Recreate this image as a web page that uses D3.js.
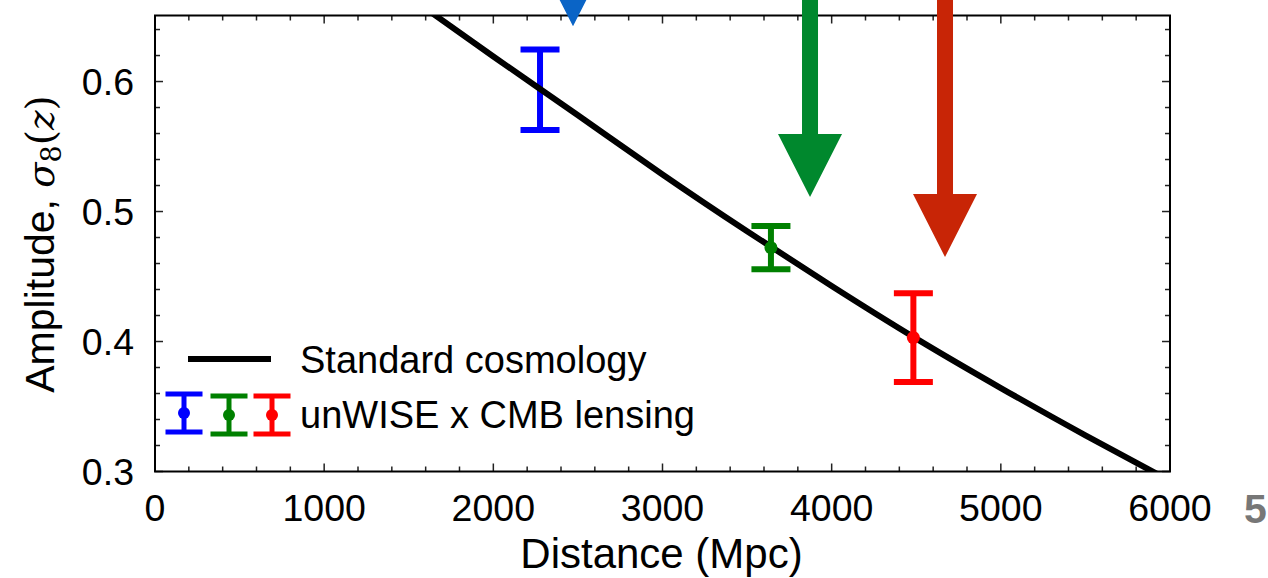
<!DOCTYPE html>
<html>
<head>
<meta charset="utf-8">
<script src="https://cdn.jsdelivr.net/npm/d3@7"></script>
<style>
  html, body { margin: 0; padding: 0; background: #fff; }
  svg { display: block; }
  text { font-family: "Liberation Sans", Arial, Helvetica, sans-serif; fill: #000; }
</style>
</head>
<body>
<svg id="chart" width="1268" height="578"></svg>
<script>
// Standard-cosmology prediction of sigma8 versus comoving distance
const modelDistance = [1500, 2000, 2500, 3000, 3500, 4000, 4500, 5000, 5500, 6000];
const modelSigma8   = [0.6654, 0.6193, 0.574, 0.5285, 0.4848, 0.4427, 0.4022, 0.3642, 0.3278, 0.2928];

// unWISE x CMB lensing measurements (blue, green, red samples)
const sampleNames    = ["blue", "green", "red"];
const sampleDistance = [2276, 3641, 4483];
const sampleSigma8   = [0.5937, 0.4722, 0.4030];
const sampleError    = [0.031, 0.0167, 0.0342];
const sampleColors   = ["#0000ff", "#008000", "#ff0000"];

// Downward arrows marking each sample's distance
const arrowDistance = [2471, 3872, 4670];
const arrowTip      = [0.6425, 0.5112, 0.4650];
const arrowColors   = ["#0a64c6", "#00882d", "#c82506"];

// Axis ticks
const xMajorTicks = [0, 1000, 2000, 3000, 4000, 5000, 6000];
const yMajorTicks = [0.3, 0.4, 0.5, 0.6];

const svg = d3.select("#chart");
const plotLeft = 155, plotRight = 1170, plotTop = 15.5, plotBottom = 471.5;

const x = d3.scaleLinear().domain([0, 6000]).range([plotLeft, plotRight]);
const y = d3.scaleLinear().domain([0.3, 0.6508]).range([plotBottom, plotTop]);

svg.append("defs").append("clipPath").attr("id", "plotClip")
  .append("rect").attr("x", plotLeft).attr("y", plotTop)
  .attr("width", plotRight - plotLeft).attr("height", plotBottom - plotTop);

// Ticks: inward on all four sides
const xMinor = d3.range(0, 6001, 200).filter(v => v % 1000 !== 0);
const yMinor = d3.range(0.30, 0.6501, 0.02).map(v => +v.toFixed(2))
  .filter(v => Math.abs(v * 10 - Math.round(v * 10)) > 1e-6);

const tickG = svg.append("g").attr("stroke", "#222").attr("stroke-width", 1.5);
function xTick(v, len) {
  tickG.append("line").attr("x1", x(v)).attr("x2", x(v)).attr("y1", plotBottom).attr("y2", plotBottom - len);
  tickG.append("line").attr("x1", x(v)).attr("x2", x(v)).attr("y1", plotTop).attr("y2", plotTop + len);
}
function yTick(v, len) {
  tickG.append("line").attr("y1", y(v)).attr("y2", y(v)).attr("x1", plotLeft).attr("x2", plotLeft + len);
  tickG.append("line").attr("y1", y(v)).attr("y2", y(v)).attr("x1", plotRight).attr("x2", plotRight - len);
}
xMajorTicks.forEach(v => xTick(v, 8));
xMinor.forEach(v => xTick(v, 5));
yMajorTicks.forEach(v => yTick(v, 8));
yMinor.forEach(v => yTick(v, 5));

// Tick labels
svg.append("g").selectAll("text").data(xMajorTicks).join("text")
  .attr("x", d => x(d)).attr("y", 521)
  .attr("text-anchor", "middle").attr("font-size", 37.5)
  .text(d => d);
svg.append("g").selectAll("text").data(yMajorTicks).join("text")
  .attr("x", 134).attr("y", d => y(d) + 13)
  .attr("text-anchor", "end").attr("font-size", 37.5)
  .text(d => d.toFixed(1));

// Axis titles
svg.append("text").attr("x", (plotLeft + plotRight) / 2 - 1).attr("y", 568)
  .attr("text-anchor", "middle").attr("font-size", 42)
  .text("Distance (Mpc)");

const yTitle = svg.append("text")
  .attr("transform", "translate(54,244) rotate(-90)")
  .attr("text-anchor", "middle").attr("font-size", 41);
yTitle.append("tspan").text("Amplitude, ");
yTitle.append("tspan").attr("font-family", "'DejaVu Serif', serif").attr("font-style", "italic").attr("font-size", 37).text("σ");
yTitle.append("tspan").attr("font-family", "'DejaVu Serif', serif").attr("font-size", 27).attr("dy", 7).text("8");
yTitle.append("tspan").attr("font-family", "'DejaVu Serif', serif").attr("font-size", 39).attr("dy", -7).text("(");
yTitle.append("tspan").attr("font-family", "'DejaVu Serif', serif").attr("font-style", "italic").attr("font-size", 37).text("z");
yTitle.append("tspan").attr("font-family", "'DejaVu Serif', serif").attr("font-size", 39).text(")");

// Measurements with error bars; the blue bar sits beneath the curve, the others above
const plot = svg.append("g").attr("clip-path", "url(#plotClip)");
const capHalf = 19.5;
const markerRadius = [0, 6.5, 6.5];
function drawSample(i) {
  const g = plot.append("g").attr("stroke", sampleColors[i]).attr("fill", sampleColors[i]);
  const cx = x(sampleDistance[i]);
  const yHi = y(sampleSigma8[i] + sampleError[i]);
  const yLo = y(sampleSigma8[i] - sampleError[i]);
  g.append("line").attr("x1", cx).attr("x2", cx).attr("y1", yHi).attr("y2", yLo).attr("stroke-width", 6);
  g.append("line").attr("x1", cx - capHalf).attr("x2", cx + capHalf).attr("y1", yHi).attr("y2", yHi).attr("stroke-width", 6);
  g.append("line").attr("x1", cx - capHalf).attr("x2", cx + capHalf).attr("y1", yLo).attr("y2", yLo).attr("stroke-width", 6);
  if (markerRadius[i] > 0) {
    g.append("circle").attr("cx", cx).attr("cy", y(sampleSigma8[i])).attr("r", markerRadius[i]).attr("stroke", "none");
  }
}
drawSample(0);

// Model curve
const line = d3.line().x((d, i) => x(modelDistance[i])).y(d => y(d)).curve(d3.curveNatural);
plot.append("path").attr("d", line(modelSigma8))
  .attr("fill", "none").attr("stroke", "#000").attr("stroke-width", 6);

drawSample(1);
drawSample(2);

// Frame
svg.append("rect").attr("x", plotLeft).attr("y", plotTop)
  .attr("width", plotRight - plotLeft).attr("height", plotBottom - plotTop)
  .attr("fill", "none").attr("stroke", "#000").attr("stroke-width", 2);

// Legend
const lg = svg.append("g");
lg.append("line").attr("x1", 188).attr("x2", 271).attr("y1", 359).attr("y2", 359)
  .attr("stroke", "#000").attr("stroke-width", 6);
lg.append("text").attr("x", 300).attr("y", 373).attr("font-size", 38).text("Standard cosmology");
const legendX = [184, 229, 272];
const legendY = [413, 415, 415];
sampleColors.forEach((c, i) => {
  const g = lg.append("g").attr("stroke", c).attr("fill", c);
  const cx = legendX[i], cy = legendY[i];
  g.append("line").attr("x1", cx).attr("x2", cx).attr("y1", cy - 19).attr("y2", cy + 19).attr("stroke-width", 5);
  g.append("line").attr("x1", cx - 18.5).attr("x2", cx + 18.5).attr("y1", cy - 19).attr("y2", cy - 19).attr("stroke-width", 5);
  g.append("line").attr("x1", cx - 18.5).attr("x2", cx + 18.5).attr("y1", cy + 19).attr("y2", cy + 19).attr("stroke-width", 5);
  g.append("circle").attr("cx", cx).attr("cy", cy).attr("r", 6).attr("stroke", "none");
});
lg.append("text").attr("x", 300).attr("y", 428).attr("font-size", 38).text("unWISE x CMB lensing");

// Arrows (drawn over the frame)
const shaftHalf = 8, headHalf = 32, headLen = 63;
arrowDistance.forEach((d, i) => {
  const ax = x(d), tip = y(arrowTip[i]);
  const p = d3.path();
  p.moveTo(ax - shaftHalf, -10);
  p.lineTo(ax + shaftHalf, -10);
  p.lineTo(ax + shaftHalf, tip - headLen);
  p.lineTo(ax + headHalf, tip - headLen);
  p.lineTo(ax, tip);
  p.lineTo(ax - headHalf, tip - headLen);
  p.lineTo(ax - shaftHalf, tip - headLen);
  p.closePath();
  svg.append("path").attr("d", p.toString()).attr("fill", arrowColors[i]);
});

// Page number
svg.append("text").attr("x", 1244).attr("y", 523)
  .attr("font-family", "Roboto, 'Liberation Sans', sans-serif")
  .attr("font-weight", "bold").attr("font-size", 41)
  .style("fill", "#777").text("5");
</script>
</body>
</html>
